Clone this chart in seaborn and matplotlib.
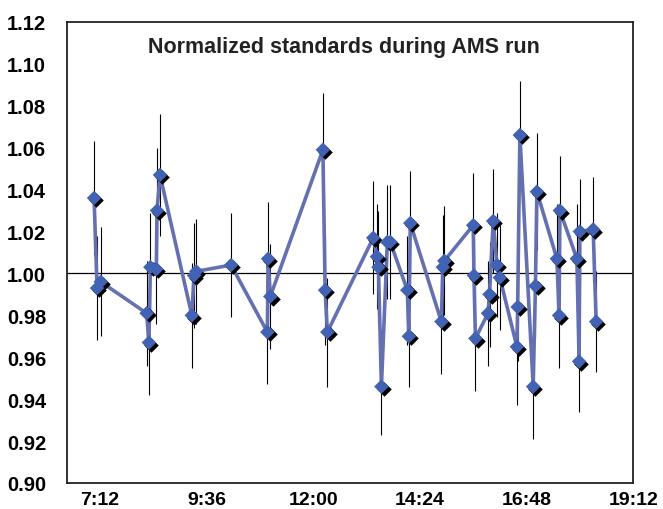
import numpy as np
import pandas as pd
import matplotlib
matplotlib.use("Agg")
import matplotlib.pyplot as plt
import seaborn as sns
from matplotlib.transforms import offset_copy

# measurement times (h:mm), normalized ratio and 1-sigma error
times = ["7:04", "7:08", "7:13", "8:15", "8:18", "8:20", "8:28", "8:29", "8:33",
         "9:16", "9:19", "9:22", "10:09", "10:58", "10:59", "11:02",
         "12:13", "12:16", "12:19", "13:21", "13:26", "13:28", "13:32",
         "13:40", "13:44", "14:07", "14:09", "14:11", "14:53", "14:55", "14:57",
         "15:36", "15:37", "15:39", "15:56", "15:58", "16:03", "16:08", "16:12",
         "16:35", "16:36", "16:39", "16:57", "17:00", "17:02",
         "17:29", "17:32", "17:33", "17:56", "17:59", "18:00", "18:18", "18:22"]
ratios = [1.036, 0.993, 0.996, 0.981, 0.967, 1.003, 1.002, 1.030, 1.047,
          0.980, 0.999, 1.001, 1.004, 0.972, 1.007, 0.989,
          1.059, 0.992, 0.972, 1.017, 1.008, 1.003, 0.946,
          1.015, 1.015, 0.992, 0.970, 1.024, 0.977, 1.003, 1.006,
          1.023, 0.999, 0.969, 0.981, 0.990, 1.025, 1.004, 0.998,
          0.965, 0.984, 1.066, 0.946, 0.994, 1.039,
          1.007, 0.980, 1.030, 1.007, 0.958, 1.020, 1.021, 0.977]
errors = [0.027, 0.025, 0.026, 0.025, 0.025, 0.026, 0.026, 0.030, 0.029,
          0.025, 0.025, 0.025, 0.025, 0.025, 0.027, 0.025,
          0.027, 0.026, 0.026, 0.027, 0.025, 0.027, 0.023,
          0.027, 0.027, 0.026, 0.024, 0.025, 0.025, 0.025, 0.026,
          0.025, 0.025, 0.025, 0.025, 0.025, 0.025, 0.025, 0.025,
          0.028, 0.026, 0.026, 0.025, 0.025, 0.028,
          0.026, 0.025, 0.026, 0.026, 0.024, 0.025, 0.025, 0.024]

x_ticks = [0.3, 0.4, 0.5, 0.6, 0.7, 0.8]
y_ticks = [0.90, 0.92, 0.94, 0.96, 0.98, 1.00, 1.02, 1.04, 1.06, 1.08, 1.10, 1.12]


def to_day(t):
    h, m = t.split(":")
    return (int(h) * 60 + int(m)) / 1440.0


def day_label(d):
    mins = int(round(d * 1440))
    return f"{mins // 60}:{mins % 60:02d}"


df = pd.DataFrame({"t": [to_day(t) for t in times], "ratio": ratios, "err": errors})

sns.set_style("white")
plt.rcParams["font.family"] = ["Liberation Sans", "DejaVu Sans"]

fig = plt.figure(figsize=(6.63, 5.10), dpi=100)
ax = fig.add_axes([0.101, 0.051, 0.854, 0.904])

ax.errorbar(df["t"], df["ratio"], yerr=df["err"], fmt="none",
            ecolor="black", elinewidth=0.8, zorder=1)
ax.axhline(1.0, color="black", lw=0.9, zorder=1.5)

sns.lineplot(data=df, x="t", y="ratio", sort=False, ax=ax, color="#6470b0",
             lw=2.6, zorder=2)

# drop shadow of the diamonds, offset down-right
shadow = offset_copy(ax.transData, fig=fig, x=2.2, y=-2.2, units="dots")
ax.scatter(df["t"], df["ratio"], marker="D", s=55, color="black",
           transform=shadow, zorder=3, linewidths=0)
sns.scatterplot(data=df, x="t", y="ratio", marker="D", s=55, color="#4262b4",
                edgecolor="none", ax=ax, zorder=4)

ax.set_xlim(0.269, 0.8)
ax.set_ylim(0.90, 1.12)
ax.set_xticks(x_ticks)
ax.set_xticklabels([day_label(v) for v in x_ticks])
ax.set_yticks(y_ticks)
ax.set_yticklabels([f"{v:.2f}" for v in y_ticks])
ax.set_xlabel("")
ax.set_ylabel("")

for s in ax.spines.values():
    s.set_color("#222222")
    s.set_linewidth(1.3)

ax.tick_params(axis="both", direction="out", length=4, width=1.0,
               colors="#222222", labelcolor="black")
ax.tick_params(axis="y", labelsize=14.5, pad=11)
ax.tick_params(axis="x", labelsize=14, pad=2)
for lab in ax.get_xticklabels() + ax.get_yticklabels():
    lab.set_fontweight("bold")

ax.text(0.49, 0.935, "Normalized standards during AMS run", transform=ax.transAxes,
        ha="center", va="baseline", fontsize=15.5, fontweight="bold", color="#222222")

fig.savefig("out.png", dpi=100)
